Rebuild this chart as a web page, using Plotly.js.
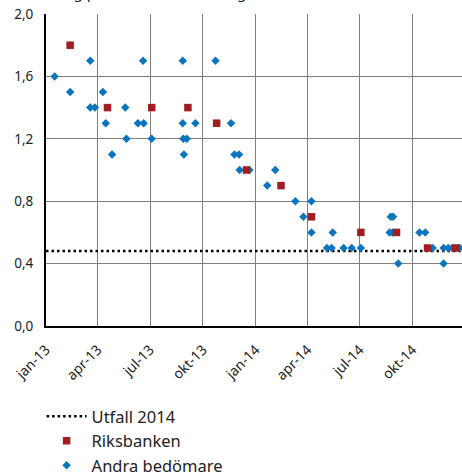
<!DOCTYPE html>
<html>
<head>
<meta charset="utf-8">
<script src="https://cdn.plot.ly/plotly-3.0.1.min.js"></script>
<style>html,body{margin:0;padding:0;background:#fff;}#chart{width:462px;height:474px;}</style>
</head>
<body>
<div id="chart"></div>
<script>
// Riksbanken forecasts
const riksDates = ['2013-02-12','2013-04-18','2013-07-04','2013-09-05','2013-10-25','2013-12-16',
  '2014-02-14','2014-04-08','2014-07-03','2014-09-03','2014-10-27','2014-12-15'];
const riksValues = [1.8,1.4,1.4,1.4,1.3,1.0,0.9,0.7,0.6,0.6,0.5,0.5];

// Other forecasters
const andraDates = ['2013-01-16','2013-02-12','2013-03-19','2013-03-19','2013-03-27','2013-04-10',
  '2013-04-15','2013-04-26','2013-05-19','2013-05-21','2013-06-10','2013-06-19','2013-06-20',
  '2013-07-04','2013-08-27','2013-08-27','2013-08-28','2013-09-03','2013-08-29','2013-09-18',
  '2013-10-23','2013-11-19','2013-11-25','2013-12-03','2013-12-04','2013-12-21',
  '2014-01-21','2014-02-04','2014-03-11','2014-03-25','2014-04-08','2014-04-08','2014-05-05',
  '2014-05-13','2014-05-15','2014-06-03','2014-06-17','2014-07-03','2014-08-22','2014-08-27',
  '2014-08-24','2014-08-28','2014-09-06','2014-10-13','2014-10-23','2014-11-05','2014-11-24',
  '2014-11-24','2014-12-02','2014-12-09','2014-12-22'];
const andraValues = [1.6,1.5,1.7,1.4,1.4,1.5,
  1.3,1.1,1.4,1.2,1.3,1.7,1.3,
  1.2,1.7,1.3,1.2,1.2,1.1,1.3,
  1.7,1.3,1.1,1.1,1.0,1.0,
  0.9,1.0,0.8,0.7,0.8,0.6,0.5,
  0.5,0.6,0.5,0.5,0.5,0.6,0.6,
  0.7,0.7,0.4,0.6,0.6,0.5,0.5,
  0.4,0.5,0.5,0.5];

// Outcome 2014
const utfallDates = ['2013-01-01','2014-12-26'];
const utfallValues = [0.48,0.48];

const xTickVals = ['2013-01-01','2013-04-01','2013-07-01','2013-10-01','2014-01-01','2014-04-01','2014-07-01','2014-10-01'];
const xTickText = ['jan-13','apr-13','jul-13','okt-13','jan-14','apr-14','jul-14','okt-14'];
const yTickVals = [0,0.4,0.8,1.2,1.6,2.0];

const titleText = 'Årlig procentuell förändring';
const legendNames = ['Utfall 2014','Riksbanken','Andra bedömare'];

const FONT = 'Noto Sans, Open Sans, sans-serif';

const traces = [
  {x: utfallDates, y: utfallValues, type:'scatter', mode:'lines', name: legendNames[0],
   line:{color:'#000', width:2.5, dash:'2.5px,3px'}, legendrank:1, legendgroup:'a', hoverinfo:'skip'},
  {x: andraDates, y: andraValues, type:'scatter', mode:'markers', name: legendNames[2],
   marker:{symbol:'diamond', size:6.5, color:'#0a75bd'}, legendrank:3, legendgroup:'c'},
  {x: riksDates, y: riksValues, type:'scatter', mode:'markers', name: legendNames[1],
   marker:{symbol:'square', size:7.5, color:'#a11d21'}, legendrank:2, legendgroup:'b'}
];

const layout = {
  width:462, height:474,
  margin:{l:46, r:0, t:14, b:148},
  paper_bgcolor:'#fff', plot_bgcolor:'#fff',
  separators:', ',
  font:{family:FONT, size:13.5, color:'#222'},
  showlegend:true,
  legend:{xref:'paper', yref:'container', x:-0.0106, xanchor:'left', y:0.158, yanchor:'top',
          font:{family:FONT, size:16.5, color:'#222'}, itemwidth:40,
          tracegroupgap:0, bgcolor:'rgba(0,0,0,0)'},
  xaxis:{type:'date', range:['2013-01-01','2014-12-26'], tickvals:xTickVals, ticktext:xTickText,
         tickangle:-45, showgrid:true, gridcolor:'#808080', gridwidth:1, showline:true, linecolor:'#000',
         linewidth:2, ticks:'', zeroline:false, ticklabelstandoff:8, automargin:false,
         tickfont:{family:FONT, size:14, color:'#222'}},
  yaxis:{range:[0,2.0], tickvals:yTickVals, tickformat:'.1f', showgrid:true, gridcolor:'#808080',
         gridwidth:1, showline:true, linecolor:'#000', linewidth:2, ticks:'', zeroline:false, automargin:false,
         ticklabelstandoff:8, tickfont:{family:FONT, size:13.5, color:'#222'}},
  annotations:[{text:titleText, xref:'paper', yref:'paper', x:0.005, xanchor:'left', y:1.031, yanchor:'bottom',
                showarrow:false, font:{family:FONT, size:15, color:'#222'}}]
};

Plotly.newPlot('chart', traces, layout, {displayModeBar:false, staticPlot:true});
</script>
</body>
</html>
